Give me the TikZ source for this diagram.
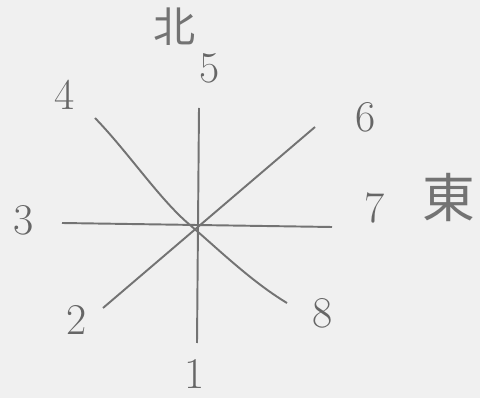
\documentclass[tikz,border=0pt]{standalone}
\usepackage{fontspec}
\newfontfamily\cjk{Noto Sans CJK JP}
\usetikzlibrary{positioning}
\tikzset{
    myline/.style={line width=1.1pt,draw=black!55},
    mylabel/.style={text=black!60,inner sep=0pt,font=\fontsize{25}{27}\selectfont},
    mydir/.style={text=black!55,inner sep=0pt,font=\cjk\fontsize{24}{26}\selectfont}
}

\begin{document}
\begin{tikzpicture}[x=0.02cm,y=-0.02cm]
  \fill[black!6] (0,0) rectangle (480,398);
  \useasboundingbox (0,0) rectangle (480,398);

  % line ends
  \coordinate (top) at (199,108);
  \coordinate (bottom) at (197,343);
  \coordinate (left) at (62,223);
  \coordinate (right) at (332,227);
  \coordinate (nw) at (95,118);
  \coordinate (se) at (287,303);
  \coordinate (sw) at (103,308);
  \coordinate (ne) at (315,127);

  \draw[myline] (top) -- (bottom);
  \draw[myline] (left) -- (right);
  \draw[myline] (nw) .. controls (128,152) and (160,200) .. (190,225)
                     .. controls (218,249) and (252,282) .. (se);
  \draw[myline] (sw) -- (ne);

  % numbers
  \node[mylabel] (n1) at (195,374) {1};
  \node[mylabel] (n2) at (77,320) {2};
  \node[mylabel] (n3) at (24,220) {3};
  \node[mylabel] (n4) at (65,95) {4};
  \node[mylabel] (n5) at (210,68) {5};
  \node[mylabel] (n6) at (366,117) {6};
  \node[mylabel] (n7) at (375,208) {7};
  \node[mylabel] (n8) at (323,313) {8};

  % directions
  \node[mydir] (north) at (175,27) {北};
  \node[mydir,font=\cjk\fontsize{30}{32}\selectfont] (east) at (449,198) {東};
\end{tikzpicture}
\end{document}
